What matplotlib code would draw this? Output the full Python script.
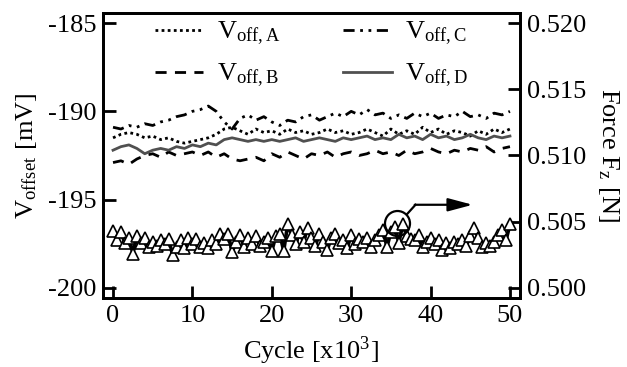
import numpy as np
import matplotlib
matplotlib.use("Agg")
import matplotlib.pyplot as plt

plt.rcParams['font.family'] = ['Liberation Serif', 'DejaVu Serif']
plt.rcParams['mathtext.fontset'] = 'stix'
plt.rcParams['axes.unicode_minus'] = False

# cycles in thousands
cycle_v = list(range(0, 51))
v_off_a = [-191.5, -191.3, -191.2, -191.3, -191.5, -191.4, -191.6, -191.5, -191.7, -191.8,
           -191.7, -191.6, -191.5, -191.3, -191.0, -190.9, -191.1, -191.3, -191.0, -191.2,
           -191.1, -191.3, -191.0, -191.2, -191.1, -191.3, -191.2, -191.0, -191.2, -191.1,
           -191.3, -191.2, -191.0, -191.2, -191.4, -191.0, -191.3, -191.1, -191.3, -190.9,
           -191.2, -191.0, -191.3, -191.1, -191.2, -191.4, -191.1, -191.3, -191.0, -191.2,
           -191.0]
v_off_b = [-192.9, -192.8, -193.0, -192.7, -192.5, -192.4, -192.6, -192.3, -192.5, -192.4,
           -192.3, -192.5, -192.3, -192.6, -192.4, -192.7, -192.8, -192.7, -192.6, -192.8,
           -192.4, -192.6, -192.3, -192.5, -192.7, -192.4, -192.5, -192.3, -192.6, -192.4,
           -192.3, -192.5, -192.4, -192.2, -192.4, -192.3, -192.5, -192.2, -192.4, -192.3,
           -192.1, -192.3, -192.4, -192.2, -192.3, -192.1, -192.2, -192.0, -192.3, -192.1,
           -192.0]
v_off_c = [-190.9, -191.0, -190.8, -190.9, -190.7, -190.8, -190.6, -190.5, -190.3, -190.2,
           -190.0, -189.9, -189.7, -190.0, -190.6, -191.0, -190.4, -190.2, -190.5, -190.3,
           -190.6, -190.8, -190.5, -190.6, -190.3, -190.2, -190.5, -190.3, -190.1, -190.3,
           -190.0, -190.2, -189.9, -190.2, -190.1, -190.4, -190.2, -190.4, -190.1, -190.3,
           -190.1, -190.4, -190.2, -190.3, -190.0, -190.3, -190.2, -190.4, -190.1, -190.2,
           -190.0]
v_off_d = [-192.2, -192.0, -191.9, -192.1, -192.4, -192.2, -192.1, -192.2, -192.0, -192.1,
           -191.9, -192.0, -191.8, -191.9, -191.6, -191.5, -191.6, -191.7, -191.6, -191.7,
           -191.6, -191.7, -191.6, -191.5, -191.7, -191.6, -191.5, -191.6, -191.7, -191.5,
           -191.6, -191.5, -191.4, -191.6, -191.5, -191.6, -191.3, -191.5, -191.4, -191.6,
           -191.3, -191.5, -191.4, -191.6, -191.5, -191.3, -191.5, -191.6, -191.4, -191.5,
           -191.4]

cycle_f = [i * 0.5 for i in range(101)]
force_z = [0.5043, 0.5036, 0.5042, 0.5034, 0.5038, 0.5026, 0.5039, 0.5034, 0.5038, 0.5031,
           0.5035, 0.5032, 0.5036, 0.5033, 0.5037, 0.5025, 0.5031, 0.5036, 0.5030, 0.5038,
           0.5033, 0.5037, 0.5031, 0.5034, 0.5030, 0.5036, 0.5033, 0.5041, 0.5037, 0.5041,
           0.5027, 0.5035, 0.5040, 0.5031, 0.5038, 0.5033, 0.5039, 0.5032, 0.5035, 0.5038,
           0.5028, 0.5039, 0.5041, 0.5028, 0.5048, 0.5040, 0.5033, 0.5042, 0.5035, 0.5045,
           0.5038, 0.5032, 0.5041, 0.5035, 0.5029, 0.5038, 0.5041, 0.5034, 0.5036, 0.5030,
           0.5040, 0.5033, 0.5037, 0.5035, 0.5038, 0.5031, 0.5036, 0.5040, 0.5044, 0.5031,
           0.5042, 0.5046, 0.5034, 0.5048, 0.5039, 0.5037, 0.5036, 0.5040, 0.5031, 0.5035,
           0.5038, 0.5033, 0.5036, 0.5029, 0.5034, 0.5030, 0.5035, 0.5033, 0.5036, 0.5032,
           0.5039, 0.5045, 0.5038, 0.5031, 0.5034, 0.5032, 0.5035, 0.5040, 0.5044, 0.5036,
           0.5048]

fig = plt.figure(figsize=(6.27, 3.67), dpi=100)
ax = fig.add_axes([0.1643, 0.188, 0.665, 0.7766])
ax2 = ax.twinx()

lw = 2.0
ax.plot(cycle_v, v_off_a, color='black', lw=lw, ls=(0, (1, 1.2)), label=r'V$_\mathregular{off,A}$')
ax.plot(cycle_v, v_off_b, color='black', lw=lw, ls=(0, (4, 3)), label=r'V$_\mathregular{off,B}$')
ax.plot(cycle_v, v_off_c, color='black', lw=lw, ls=(0, (4, 2, 1, 2, 1, 2)), label=r'V$_\mathregular{off,C}$')
ax.plot(cycle_v, v_off_d, color='#505050', lw=lw, ls='-', label=r'V$_\mathregular{off,D}$')

ax2.plot(cycle_f, force_z, color='black', lw=2.6, marker='^', markersize=8.5,
         markerfacecolor='white', markeredgecolor='black', markeredgewidth=1.2)

# annotation: circle + arrow to the right axis
ax2.plot([35.8], [0.50492], marker='o', markersize=18, markerfacecolor='none',
         markeredgecolor='black', markeredgewidth=1.6)
ax2.plot([37.0, 38.1], [0.50555, 0.50628], color='black', lw=1.6)
ax2.annotate('', xy=(45.3, 0.50628), xytext=(38.0, 0.50628),
             arrowprops=dict(arrowstyle='-|>,head_length=1.5,head_width=0.4',
                             color='black', lw=1.6, shrinkA=0, shrinkB=0))

ax.set_xlim(-1.26, 51.26)
ax.set_ylim(-200.57, -184.43)
ax2.set_ylim(0.49924, 0.52076)
ax.set_xticks([0, 10, 20, 30, 40, 50])
ax.set_yticks([-200, -195, -190, -185])
ax2.set_yticks([0.500, 0.505, 0.510, 0.515, 0.520])
ax2.set_yticklabels(['0.500', '0.505', '0.510', '0.515', '0.520'])

fs = 19
for a in (ax, ax2):
    for s in a.spines.values():
        s.set_linewidth(2.0)
ax.tick_params(axis='both', direction='in', length=9, width=2.0, labelsize=fs, pad=5)
ax.tick_params(axis='y', right=False)
ax2.tick_params(axis='y', direction='in', length=9, width=2.0, labelsize=fs, pad=5)

ax.set_xlabel(r'Cycle [x10$^\mathregular{3}$]', fontsize=fs, labelpad=5)
ax.set_ylabel(r'V$_\mathregular{offset}$ [mV]', fontsize=fs, labelpad=6)
ax2.set_ylabel(r'Force F$_\mathregular{z}$ [N]', fontsize=fs, rotation=270, labelpad=25)

ax.legend(ncol=2, loc='upper center', bbox_to_anchor=(0.5, 1.06), frameon=False,
          fontsize=fs, handlelength=1.85, columnspacing=2.4, labelspacing=0.55,
          handletextpad=0.5)

fig.savefig('out.png', dpi=100)
